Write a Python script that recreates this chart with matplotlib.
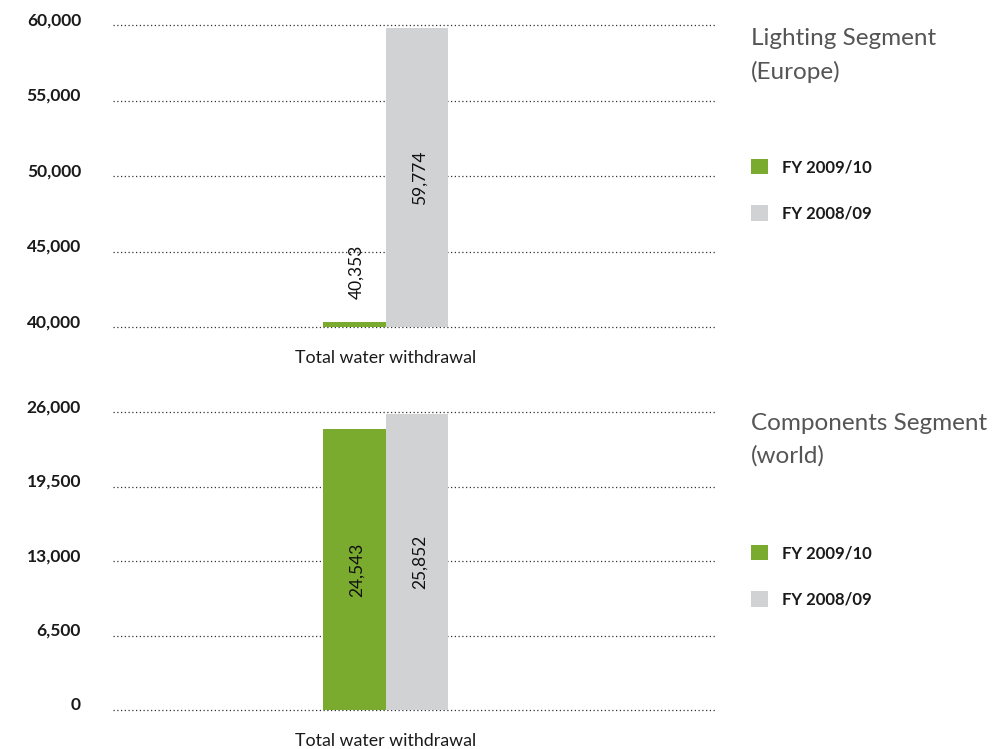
import matplotlib
matplotlib.use("Agg")
import matplotlib.pyplot as plt
from matplotlib.transforms import ScaledTranslation

plt.rcParams['font.family'] = ['Lato', 'DejaVu Sans']

# Data
category = ["Total water withdrawal"]
series_names = ["FY 2009/10", "FY 2008/09"]
lighting_values = [40353, 59774]
components_values = [24543, 25852]
lighting_ticks = [40000, 45000, 50000, 55000, 60000]
components_ticks = [0, 6500, 13000, 19500, 26000]
panel_titles = ["Lighting Segment\n(Europe)", "Components Segment\n(world)"]

colors = ["#7aaa2e", "#d1d2d4"]
W, H = 995, 749
fig = plt.figure(figsize=(W / 100, H / 100), dpi=100)

left, width = 113 / W, 602 / W
ax_top = fig.add_axes([left, 1 - 327 / H, width, 302 / H])
ax_bot = fig.add_axes([left, 1 - 710 / H, width, 298 / H])

bar_w = 0.104
offsets = [-bar_w / 2, bar_w / 2]


def draw_panel(ax, values, ticks, label_inside):
    base = ticks[0]
    for i, (v, c) in enumerate(zip(values, colors)):
        ax.bar(offsets[i], v - base, bottom=base, width=bar_w, color=c,
               label=series_names[i], zorder=2)
        txt = f"{v:,}"
        if label_inside[i]:
            ax.text(offsets[i] + 0.004, base + (v - base) / 2, txt, rotation=90,
                    ha='center', va='center', fontsize=12.5, color='#111111',
                    zorder=3)
        else:
            ax.annotate(txt, (offsets[i] + 0.004, v), xytext=(0, 16),
                        textcoords='offset points', rotation=90,
                        ha='center', va='bottom', fontsize=12.5,
                        color='#111111', zorder=3)
    ax.set_xlim(-0.453, 0.547)
    ax.set_ylim(ticks[0], ticks[-1])
    ax.set_yticks(ticks)
    ax.set_yticklabels([f"{t:,}" for t in ticks], fontsize=12.5,
                       fontweight='bold', color='#1a1a1a')
    ax.set_xticks([0])
    ax.set_xticklabels(category, fontsize=12.8, color='#1a1a1a')
    ax.tick_params(axis='both', length=0)
    ax.tick_params(axis='y', pad=23)
    ax.tick_params(axis='x', pad=16.5)
    for lab in ax.get_yticklabels():
        lab.set_transform(lab.get_transform() +
                          ScaledTranslation(0, 4.5 / 72, fig.dpi_scale_trans))
    ax.yaxis.grid(True, linestyle=(0, (1, 2)), color='#333333', linewidth=0.9,
                  zorder=1)
    for gl in ax.yaxis.get_gridlines():
        gl.set_clip_on(False)
    ax.set_axisbelow(True)
    for s in ax.spines.values():
        s.set_visible(False)


draw_panel(ax_top, lighting_values, lighting_ticks, [False, True])
draw_panel(ax_bot, components_values, components_ticks, [True, True])

# Panel titles and legends
title_y = [1 - 28 / H, 1 - 413 / H]
legend_y = [1 - 159 / H, 1 - 545 / H]
for ax, title, ty, ly in zip([ax_top, ax_bot], panel_titles, title_y, legend_y):
    fig.text(751 / W, ty, title, ha='left', va='top', fontsize=17.5,
             fontweight='normal', color='#555555', linespacing=1.65)
    leg = ax.legend(loc='upper left', bbox_to_anchor=(751 / W, ly),
                    bbox_transform=fig.transFigure, frameon=False,
                    borderpad=0, borderaxespad=0, handlelength=1.05,
                    handleheight=1.05, handletextpad=0.8, labelspacing=1.8,
                    prop={'size': 12, 'weight': 'bold'})
    for t in leg.get_texts():
        t.set_color('#1a1a1a')

fig.savefig("out.png", dpi=100)
